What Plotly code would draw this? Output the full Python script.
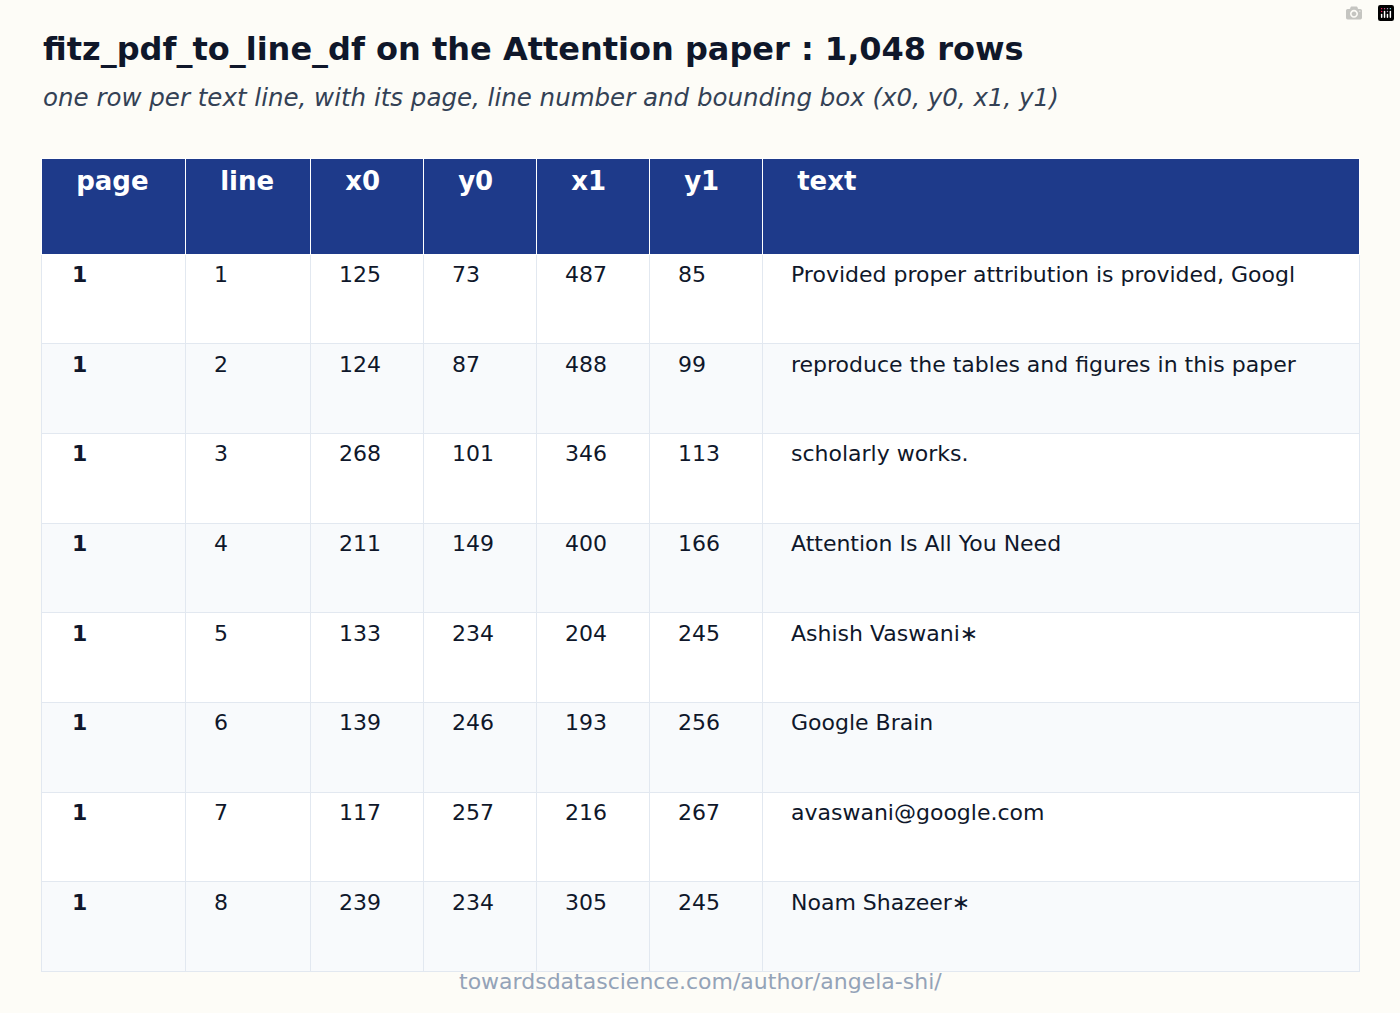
import plotly.graph_objects as go

columns = ["page", "line", "x0", "y0", "x1", "y1", "text"]
page = [1, 1, 1, 1, 1, 1, 1, 1]
line = [1, 2, 3, 4, 5, 6, 7, 8]
x0 = [125, 124, 268, 211, 133, 139, 117, 239]
y0 = [73, 87, 101, 149, 234, 246, 257, 234]
x1 = [487, 488, 346, 400, 204, 193, 216, 305]
y1 = [85, 99, 113, 166, 245, 256, 267, 245]
text = ["Provided proper attribution is provided, Googl",
        "reproduce the tables and figures in this paper",
        "scholarly works.",
        "Attention Is All You Need",
        "Ashish Vaswani\u2217",
        "Google Brain",
        "avaswani@google.com",
        "Noam Shazeer\u2217"]

PAD = "\u00a0" * 3
W, H = 1400, 1013
col_widths = [144, 125, 113, 113, 113, 113, 597]

def pad(vals):
    return ["<br>" + PAD + str(v) for v in vals]

cells = [["<br><b>" + PAD + str(v) + "</b>" for v in page]] + [pad(c) for c in [line, x0, y0, x1, y1, text]]
fills = ["#FFFFFF" if i % 2 == 0 else "#F8FAFC" for i in range(len(page))]

fig = go.Figure(go.Table(
    domain=dict(x=[41 / W, 1359 / W], y=[1 - 972 / H, 1 - 158 / H]),
    columnwidth=col_widths,
    header=dict(values=["<b>" + PAD + c + "</b>" for c in columns],
                fill_color="#1E3A8A", line_color="#FFFFFF", align="left",
                font=dict(color="white", size=26, family="DejaVu Sans"), height=96),
    cells=dict(values=cells, fill_color=[fills] * 7, line_color="#E2E8F0", align="left",
               font=dict(color="#0F172A", size=22, family="DejaVu Sans"), height=89.7),
))

fig.update_layout(
    width=W, height=H, margin=dict(l=0, r=0, t=0, b=0),
    paper_bgcolor="#FDFCF7",
    annotations=[
        dict(text="<b>fitz_pdf_to_line_df on the Attention paper : 1,048 rows</b>", x=41 / W, y=1 - 49 / H,
             xref="paper", yref="paper", xanchor="left", yanchor="middle", showarrow=False,
             font=dict(size=32, color="#0F172A", family="DejaVu Sans")),
        dict(text="<i>one row per text line, with its page, line number and bounding box (x0, y0, x1, y1)</i>",
             x=41 / W, y=1 - 97 / H, xref="paper", yref="paper", xanchor="left", yanchor="middle",
             showarrow=False, font=dict(size=24.5, color="#334155", family="DejaVu Sans")),
        dict(text="towardsdatascience.com/author/angela-shi/", x=0.5, y=1 - 981 / H,
             xref="paper", yref="paper", xanchor="center", yanchor="middle", showarrow=False,
             font=dict(size=22, color="#94A3B8", family="DejaVu Sans")),
    ],
)
fig.write_html("out.html", post_script="document.body.style.margin='0';")
